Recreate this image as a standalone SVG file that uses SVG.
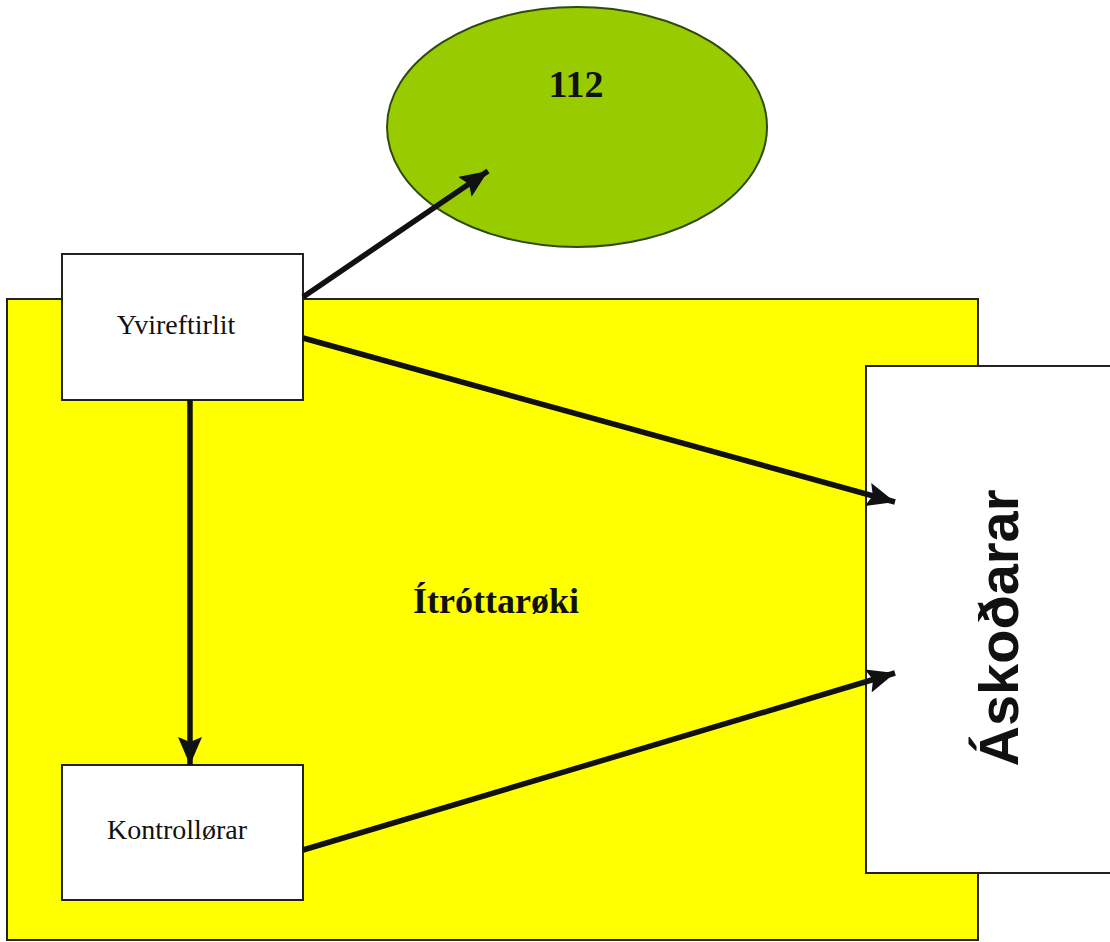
<svg xmlns="http://www.w3.org/2000/svg" width="1110" height="942" viewBox="0 0 1110 942">
<style>
.box{fill:#fff;stroke:#222;stroke-width:2}
.serif{font-family:"Liberation Serif","Times New Roman",serif;fill:#111}
.conn{stroke:#111;stroke-width:5.5;fill:none;marker-end:url(#ah)}
</style>
<defs>
<marker id="ah" markerUnits="userSpaceOnUse" markerWidth="30" markerHeight="24" refX="28" refY="12" orient="auto">
<path d="M0,0 L28,12 L0,24 L5,12 Z" fill="#111"/>
</marker>
</defs>
<rect width="1110" height="942" fill="#fff"/>
<g id="itrottaroki">
<rect x="7" y="299" width="971" height="641" fill="#ffff00" stroke="#222" stroke-width="2"/>
<text class="serif" x="496" y="613" font-size="36" font-weight="bold" text-anchor="middle">Ítróttarøki</text>
</g>
<g id="n112">
<ellipse cx="577" cy="127" rx="190" ry="120" fill="#99cc00" stroke="#2f4a10" stroke-width="2"/>
<text class="serif" x="576" y="97" font-size="38" font-weight="bold" text-anchor="middle">112</text>
</g>
<g id="yvireftirlit">
<rect class="box" x="62" y="254" width="241" height="146"/>
<text class="serif" x="176" y="334" font-size="28" text-anchor="middle">Yvireftirlit</text>
</g>
<g id="kontrollorar">
<rect class="box" x="62" y="765" width="241" height="135"/>
<text class="serif" x="177" y="839" font-size="28" text-anchor="middle">Kontrollørar</text>
</g>
<g id="askodarar">
<rect class="box" x="866" y="366" width="260" height="507"/>
<text x="1018" y="628" font-family="'Liberation Sans',Arial,sans-serif" font-weight="bold" font-size="56" fill="#111" text-anchor="middle" transform="rotate(-90 1018 628)">Áskoðarar</text>
</g>
<g id="connectors">
<line class="conn" x1="303" y1="297" x2="488" y2="171"/>
<line class="conn" x1="303" y1="338" x2="895" y2="502"/>
<line class="conn" x1="190" y1="400" x2="190" y2="765"/>
<line class="conn" x1="303" y1="850" x2="895" y2="673"/>
</g>
</svg>
